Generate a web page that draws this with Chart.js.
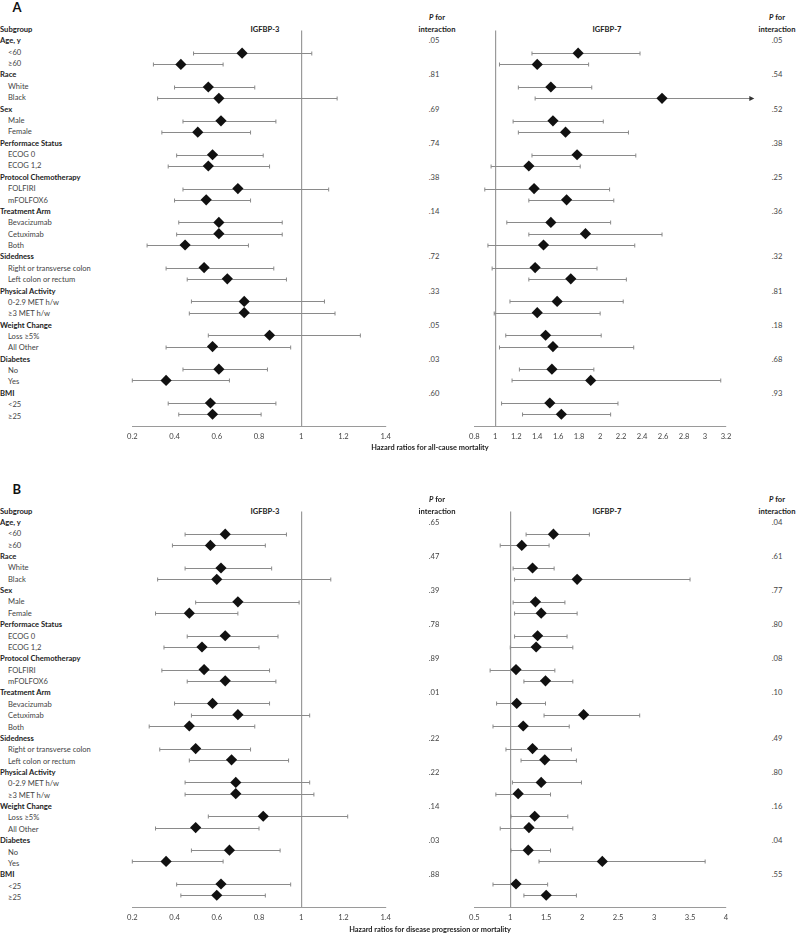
<!DOCTYPE html>
<html>
<head>
<meta charset="utf-8">
<script src="https://cdn.jsdelivr.net/npm/chart.js@4"></script>
<style>
  body { margin: 0; width: 799px; height: 936px; position: relative; background: #fff; overflow: hidden;
         font-family: Lato, "Open Sans", "DejaVu Sans", sans-serif; }
  .t { position: absolute; white-space: nowrap; font-size: 7.6px; line-height: 1; transform: translateY(-50%); color: #444; }
  .h { font-weight: bold; color: #222; }
  .c { transform: translate(-50%, -50%); }
  .box { position: absolute; }
</style>
</head>
<body>
<script>
// Rows of the table, top to bottom (same for both panels)
const rowLabels = ["Subgroup", "Age, y", "<60", "≥60", "Race", "White", "Black", "Sex", "Male", "Female",
  "Performace Status", "ECOG 0", "ECOG 1,2", "Protocol Chemotherapy", "FOLFIRI", "mFOLFOX6",
  "Treatment Arm", "Bevacizumab", "Cetuximab", "Both", "Sidedness", "Right or transverse colon",
  "Left colon or rectum", "Physical Activity", "0-2.9 MET h/w", "≥3 MET h/w", "Weight Change",
  "Loss ≥5%", "All Other", "Diabetes", "No", "Yes", "BMI", "<25", "≥25"];
const headerRows = [0, 1, 4, 7, 10, 13, 16, 20, 23, 26, 29, 32];
const groupRows = [1, 4, 7, 10, 13, 16, 20, 23, 26, 29, 32];
const itemRows = [2, 3, 5, 6, 8, 9, 11, 12, 14, 15, 17, 18, 19, 21, 22, 24, 25, 27, 28, 30, 31, 33, 34];

// Panel A: all-cause mortality
const a3Hr = [0.72, 0.43, 0.56, 0.61, 0.62, 0.51, 0.58, 0.56, 0.70, 0.55, 0.61, 0.61, 0.45, 0.54, 0.65, 0.73, 0.73, 0.85, 0.58, 0.61, 0.36, 0.57, 0.58];
const a3Lo = [0.49, 0.30, 0.40, 0.32, 0.44, 0.34, 0.41, 0.37, 0.44, 0.40, 0.42, 0.41, 0.27, 0.36, 0.46, 0.48, 0.47, 0.56, 0.36, 0.44, 0.20, 0.37, 0.42];
const a3Hi = [1.05, 0.63, 0.78, 1.17, 0.88, 0.76, 0.82, 0.85, 1.13, 0.76, 0.91, 0.91, 0.75, 0.87, 0.93, 1.11, 1.16, 1.28, 0.95, 0.84, 0.66, 0.88, 0.81];
const a7Hr = [1.79, 1.40, 1.53, 2.59, 1.55, 1.67, 1.78, 1.32, 1.37, 1.68, 1.53, 1.86, 1.46, 1.38, 1.72, 1.59, 1.40, 1.48, 1.55, 1.54, 1.91, 1.52, 1.63];
const a7Lo = [1.35, 1.04, 1.22, 1.38, 1.17, 1.22, 1.35, 0.96, 0.90, 1.32, 1.11, 1.32, 0.93, 0.97, 1.32, 1.14, 0.99, 1.10, 1.04, 1.23, 1.16, 1.06, 1.26];
const a7Hi = [2.38, 1.89, 1.92, 3.47, 2.03, 2.27, 2.34, 1.81, 2.09, 2.13, 2.10, 2.59, 2.33, 1.97, 2.25, 2.22, 2.00, 2.01, 2.32, 1.94, 3.15, 2.17, 2.10];
const aP3 = [".05", ".81", ".69", ".74", ".38", ".14", ".72", ".33", ".05", ".03", ".60"];
const aP7 = [".05", ".54", ".52", ".38", ".25", ".36", ".32", ".81", ".18", ".68", ".93"];

// Panel B: disease progression or mortality
const b3Hr = [0.64, 0.57, 0.62, 0.60, 0.70, 0.47, 0.64, 0.53, 0.54, 0.64, 0.58, 0.70, 0.47, 0.50, 0.67, 0.69, 0.69, 0.82, 0.50, 0.66, 0.36, 0.62, 0.60];
const b3Lo = [0.45, 0.39, 0.45, 0.32, 0.50, 0.31, 0.46, 0.35, 0.34, 0.46, 0.40, 0.48, 0.28, 0.33, 0.47, 0.45, 0.45, 0.56, 0.31, 0.48, 0.20, 0.41, 0.43];
const b3Hi = [0.93, 0.83, 0.86, 1.14, 0.99, 0.70, 0.89, 0.80, 0.85, 0.88, 0.85, 1.04, 0.78, 0.76, 0.94, 1.04, 1.06, 1.22, 0.80, 0.90, 0.63, 0.95, 0.83];
const b7Hr = [1.60, 1.16, 1.31, 1.93, 1.35, 1.43, 1.38, 1.36, 1.08, 1.49, 1.09, 2.02, 1.18, 1.31, 1.48, 1.43, 1.11, 1.34, 1.26, 1.25, 2.28, 1.08, 1.50];
const b7Lo = [1.22, 0.86, 1.04, 1.06, 1.04, 1.06, 1.06, 1.00, 0.72, 1.19, 0.81, 1.47, 0.76, 0.94, 1.15, 1.03, 0.80, 1.01, 0.86, 1.01, 1.40, 0.76, 1.19];
const b7Hi = [2.10, 1.54, 1.61, 3.50, 1.76, 1.93, 1.79, 1.87, 1.62, 1.87, 1.49, 2.80, 1.82, 1.85, 1.92, 1.99, 1.56, 1.80, 1.87, 1.56, 3.71, 1.52, 1.92];
const bP3 = [".65", ".47", ".39", ".78", ".89", ".01", ".22", ".22", ".14", ".03", ".88"];
const bP7 = [".04", ".61", ".77", ".80", ".08", ".10", ".49", ".80", ".16", ".04", ".55"];

// axis ranges / ticks
const leftRange = { min: 0.2, max: 1.4, step: 0.2 };
const aRightRange = { min: 0.8, max: 3.2, step: 0.2 };
const bRightRange = { min: 0.5, max: 4, step: 0.5 };

function addText(txt, x, y, cls, style) {
  const d = document.createElement("div");
  d.className = "t " + (cls || "");
  d.textContent = txt;
  d.style.left = x + "px";
  d.style.top = y + "px";
  if (style) Object.assign(d.style, style);
  document.body.appendChild(d);
  return d;
}

// draws CI whiskers (with caps, or an arrow when CI runs off the axis)
const errorBars = {
  id: "errorBars",
  beforeDatasetsDraw(chart) {
    const { ctx, scales: { x, y } } = chart;
    const pts = chart.data.datasets[0].data;
    ctx.save();
    ctx.strokeStyle = "#8a8a8a";
    ctx.fillStyle = "#333";
    ctx.lineWidth = 1;
    for (const p of pts) {
      const py = Math.round(y.getPixelForValue(p.y)) + 0.5;
      const x0 = x.getPixelForValue(p.lo);
      const x1 = x.getPixelForValue(p.hi);
      const over = p.hi > x.max;
      ctx.beginPath();
      ctx.moveTo(x0, py);
      ctx.lineTo(over ? x1 - 4 : x1, py);
      ctx.moveTo(x0, py - 2);
      ctx.lineTo(x0, py + 2);
      if (!over) { ctx.moveTo(x1, py - 2); ctx.lineTo(x1, py + 2); }
      ctx.stroke();
      if (over) {
        ctx.beginPath();
        ctx.moveTo(x1, py);
        ctx.lineTo(x1 - 5, py - 2.5);
        ctx.lineTo(x1 - 5, py + 2.5);
        ctx.closePath();
        ctx.fill();
      }
    }
    ctx.restore();
  }
};

function forest(left, top, width, padRight, range, hr, lo, hi) {
  const box = document.createElement("div");
  box.className = "box";
  Object.assign(box.style, { left: left + "px", top: top + "px", width: width + "px", height: "421px" });
  const cv = document.createElement("canvas");
  box.appendChild(cv);
  document.body.appendChild(box);
  return new Chart(cv, {
    type: "scatter",
    data: {
      datasets: [{
        data: itemRows.map((r, i) => ({ x: hr[i], y: r, lo: lo[i], hi: hi[i] })),
        pointStyle: "rectRot",
        pointRadius: 5.6,
        pointHoverRadius: 5.6,
        backgroundColor: "#111",
        borderColor: "#111",
        borderWidth: 0,
        clip: false,
      }],
    },
    options: {
      responsive: true,
      maintainAspectRatio: false,
      animation: false,
      events: [],
      layout: { padding: { left: 10, right: padRight, top: 0, bottom: 0 } },
      plugins: { legend: { display: false }, tooltip: { enabled: false } },
      scales: {
        x: {
          type: "linear",
          min: range.min, max: range.max,
          afterFit: (s) => { s.height = 20; },
          ticks: {
            stepSize: range.step, autoSkip: false, maxRotation: 0, padding: 6,
            color: "#444", font: { family: "Lato, 'Open Sans', sans-serif", size: 7.6 },
            callback: (v) => String(+Number(v).toFixed(2)),
          },
          grid: {
            drawTicks: false,
            color: (c) => (c.tick && Math.abs(c.tick.value - 1) < 1e-6 ? "#9a9a9a" : "rgba(0,0,0,0)"),
            lineWidth: 1.2,
          },
          border: { display: true, color: "#9a9a9a", width: 1 },
        },
        y: { type: "linear", min: 0, max: 35.04, reverse: true, display: false },
      },
    },
    plugins: [errorBars],
  });
}

function panel(off, letter, p3, p7, hrs, title, rightRange, rightPad) {
  addText(letter, 12.5, 7 + off, "h", { fontSize: "13px", color: "#111" });
  rowLabels.forEach((lab, i) => {
    const isHead = headerRows.includes(i);
    addText(lab, isHead ? 0 : 8, 30 + 11.37 * i + off, isHead ? "h" : "");
  });
  addText("IGFBP-3", 265, 30 + off, "h c");
  addText("IGFBP-7", 607, 30 + off, "h c");
  [437, 777].forEach((cx) => {
    const d = addText("", cx, 18 + off, "h c");
    d.innerHTML = "<i>P</i> for";
    addText("interaction", cx, 30 + off, "h c");
  });
  groupRows.forEach((r, i) => {
    addText(p3[i], 434, 30 + 11.37 * r + off, "c");
    addText(p7[i], 777, 30 + 11.37 * r + off, "c");
  });
  forest(121, 24.8 + off, 276, 10, leftRange, hrs[0], hrs[1], hrs[2]);
  forest(463, 24.8 + off, 263 + rightPad, rightPad, rightRange, hrs[3], hrs[4], hrs[5]);
  addText(title, 430, 448.3 + off, "h c", { fontSize: "7.4px" });
}

panel(0, "A", aP3, aP7, [a3Hr, a3Lo, a3Hi, a7Hr, a7Lo, a7Hi],
  "Hazard ratios for all-cause mortality", aRightRange, 38);
panel(481.5, "B", bP3, bP7, [b3Hr, b3Lo, b3Hi, b7Hr, b7Lo, b7Hi],
  "Hazard ratios for disease progression or mortality", bRightRange, 10);
</script>
</body>
</html>
